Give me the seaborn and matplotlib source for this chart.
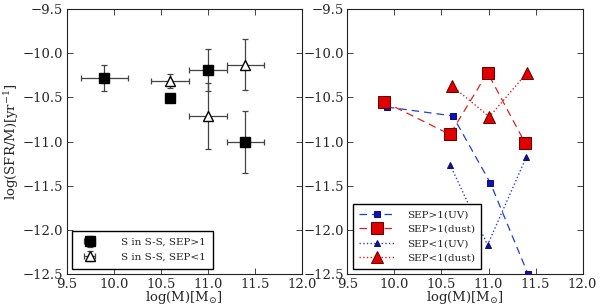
import numpy as np
import seaborn as sns
import matplotlib
matplotlib.use("Agg")
import matplotlib.pyplot as plt

sns.set_style("ticks")
plt.rcParams['font.family'] = ['DejaVu Serif']
plt.rcParams['mathtext.fontset'] = 'dejavuserif'
plt.rcParams['xtick.direction'] = 'in'
plt.rcParams['ytick.direction'] = 'in'
plt.rcParams['xtick.top'] = True
plt.rcParams['ytick.right'] = True

# left panel: S in S-S galaxies
sep_gt1_mass = [9.9, 10.6, 11.0, 11.4]
sep_gt1_ssfr = [-10.28, -10.51, -10.19, -11.01]
sep_gt1_xerr = [0.25, 0.0, 0.2, 0.2]
sep_gt1_yerr = [0.15, 0.0, 0.24, 0.35]

sep_lt1_mass = [10.6, 11.0, 11.4]
sep_lt1_ssfr = [-10.32, -10.71, -10.13]
sep_lt1_xerr = [0.2, 0.2, 0.2]
sep_lt1_yerr = [0.08, 0.37, 0.29]

# right panel: UV vs dust based
uv_gt1_mass = [9.92, 10.62, 11.02, 11.42]
uv_gt1_ssfr = [-10.61, -10.71, -11.47, -12.5]
dust_gt1_mass = [9.89, 10.59, 10.99, 11.39]
dust_gt1_ssfr = [-10.55, -10.92, -10.22, -11.02]
uv_lt1_mass = [10.59, 10.99, 11.40]
uv_lt1_ssfr = [-11.26, -12.17, -11.18]
dust_lt1_mass = [10.61, 11.01, 11.41]
dust_lt1_ssfr = [-10.37, -10.72, -10.22]

fig = plt.figure(figsize=(6.0, 3.08), dpi=100)
ax1 = fig.add_axes([0.111, 0.110, 0.392, 0.861])
ax2 = fig.add_axes([0.579, 0.110, 0.392, 0.861])

fs = 9.5
# errorbars drawn with matplotlib, seaborn has no free-form error bars
ax1.errorbar(sep_gt1_mass, sep_gt1_ssfr, xerr=sep_gt1_xerr, yerr=sep_gt1_yerr,
             fmt='s', color='k', ms=6.5, mfc='k', mec='k', ecolor='#444444',
             elinewidth=0.9, capsize=2.5, capthick=0.9, label='S in S-S, SEP>1')
ax1.errorbar(sep_lt1_mass, sep_lt1_ssfr, xerr=sep_lt1_xerr, yerr=sep_lt1_yerr,
             fmt='^', color='k', ms=6.5, mfc='white', mec='k', ecolor='#444444',
             elinewidth=0.9, capsize=2.5, capthick=0.9, label='S in S-S, SEP<1')
ax1.legend(loc='lower left', fontsize=7.5, handletextpad=2.0, borderpad=0.7,
           fancybox=False, edgecolor='k', framealpha=1)
ax1.set_ylabel(r'log(SFR/M)[yr$^{-1}$]', fontsize=fs, labelpad=1)

sns.lineplot(x=uv_gt1_mass, y=uv_gt1_ssfr, ax=ax2, sort=False, color='#1f3fd8',
             ls=(0, (6, 4)), lw=0.9, marker='s', ms=4.5, mfc='#1010c0', mec='#101070',
             label='SEP>1(UV)')
sns.lineplot(x=dust_gt1_mass, y=dust_gt1_ssfr, ax=ax2, sort=False, color='#e02020',
             ls=(0, (6, 4)), lw=0.9, marker='s', ms=8, mfc='#e00000', mec='#700000',
             label='SEP>1(dust)')
sns.lineplot(x=uv_lt1_mass, y=uv_lt1_ssfr, ax=ax2, sort=False, color='#3040e0',
             ls=':', lw=1.0, marker='^', ms=4.5, mfc='#1010a0', mec='#101060',
             label='SEP<1(UV)')
sns.lineplot(x=dust_lt1_mass, y=dust_lt1_ssfr, ax=ax2, sort=False, color='#e02020',
             ls=':', lw=1.0, marker='^', ms=8, mfc='#e00000', mec='#700000',
             label='SEP<1(dust)')
ax2.legend(loc='lower left', fontsize=7.5, handlelength=3.4, handletextpad=1.2,
           borderpad=0.6, fancybox=False, edgecolor='k', framealpha=1)

for ax in (ax1, ax2):
    ax.set_xlim(9.5, 12.0)
    ax.set_ylim(-12.5, -9.5)
    ax.set_xticks(np.arange(9.5, 12.01, 0.5))
    ax.set_yticks(np.arange(-12.5, -9.49, 0.5))
    ax.set_xlabel(r'log(M)[M$_{\odot}$]', fontsize=fs, labelpad=-1)
    ax.tick_params(labelsize=fs, length=4, width=0.6, pad=2.5)
    for s in ax.spines.values():
        s.set_linewidth(0.8)
        s.set_color('#222222')

fig.savefig('out.png', dpi=100)
